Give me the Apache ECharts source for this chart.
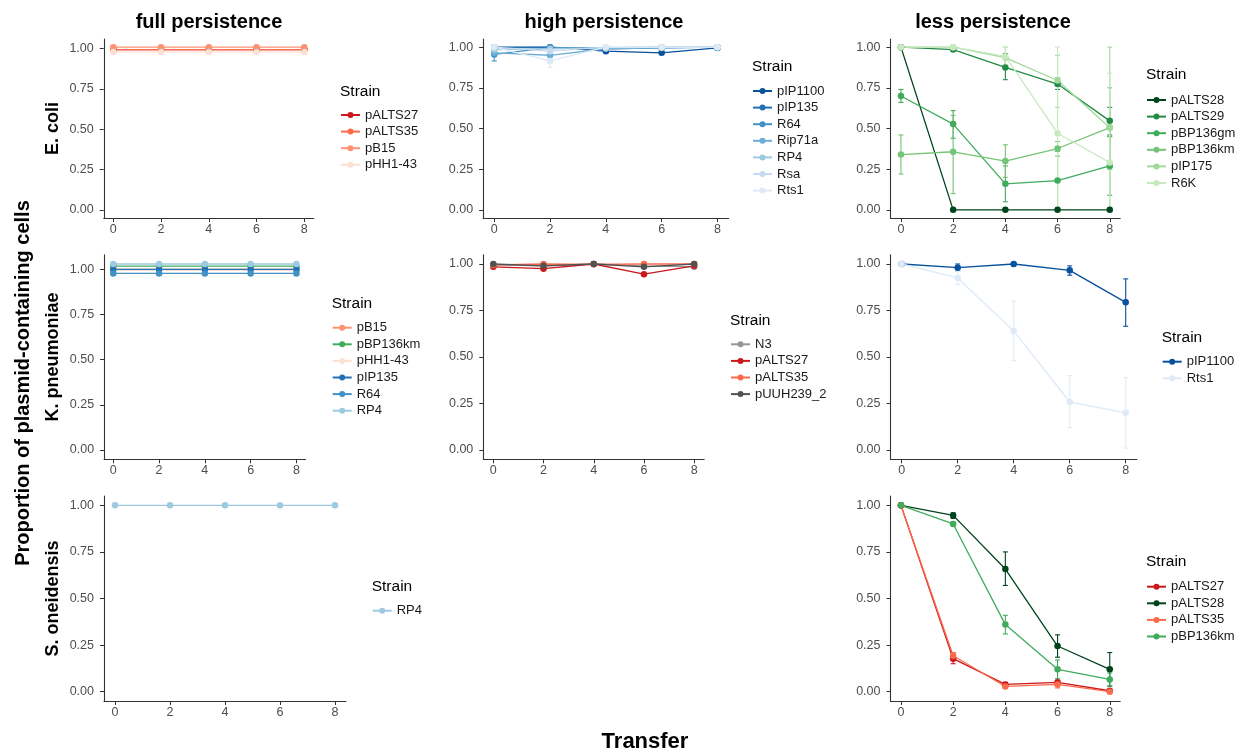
<!DOCTYPE html>
<html><head><meta charset="utf-8">
<script src="https://cdn.jsdelivr.net/npm/echarts@6/dist/echarts.min.js"></script>
<style>html,body{margin:0;padding:0;background:#fff}#c{width:1245px;height:753px}</style>
</head><body><div id="c"></div>
<script>
// ---------- DATA ----------
const transfer = [0, 2, 4, 6, 8];
const xTickValues = [0, 2, 4, 6, 8];
const yTickValues = [0, 0.25, 0.5, 0.75, 1];
const columnTitles = ['full persistence', 'high persistence', 'less persistence'];
const rowTitles = ['E. coli', 'K. pneumoniae', 'S. oneidensis'];
const yAxisTitle = 'Proportion of plasmid-containing cells';
const xAxisTitle = 'Transfer';
const legendTitle = 'Strain';

// E. coli - full persistence
const ecoliFullStrains = ['pALTS27', 'pALTS35', 'pB15', 'pHH1-43'];
const ecoliFullValues = [
  [0.995, 0.995, 0.995, 0.995, 0.995],
  [0.995, 0.995, 0.995, 0.995, 0.995],
  [1.01, 1.01, 1.01, 1.01, 1.01],
  [0.98, 0.98, 0.98, 0.98, 0.98]
];
const ecoliFullLow = [null, null, null, null];
const ecoliFullHigh = [null, null, null, null];

// E. coli - high persistence
const ecoliHighStrains = ['pIP1100', 'pIP135', 'R64', 'Rip71a', 'RP4', 'Rsa', 'Rts1'];
const ecoliHighValues = [
  [1.0, 1.0, 0.975, 0.965, 0.995],
  [0.995, 0.998, 0.99, 0.995, 1.0],
  [0.955, 0.997, 0.995, 1.0, 1.0],
  [0.965, 0.95, 0.99, 0.995, 1.0],
  [0.985, 0.99, 0.995, 1.0, 1.0],
  [1.0, 0.975, 1.0, 1.0, 1.0],
  [1.0, 0.915, 1.0, 1.0, 1.0]
];
const ecoliHighLow = [
  [null, null, 0.965, 0.955, null],
  null,
  [0.915, null, null, null, null],
  [null, 0.925, null, null, null],
  null, null,
  [null, 0.875, null, null, null]
];
const ecoliHighHigh = [
  [null, null, 0.985, 0.975, null],
  null,
  [0.995, null, null, null, null],
  [null, 0.975, null, null, null],
  null, null,
  [null, 0.955, null, null, null]
];

// E. coli - less persistence
const ecoliLessStrains = ['pALTS28', 'pALTS29', 'pBP136gm', 'pBP136km', 'pIP175', 'R6K'];
const ecoliLessValues = [
  [1.0, 0.0, 0.0, 0.0, 0.0],
  [1.0, 0.985, 0.875, 0.773, 0.547],
  [0.70, 0.527, 0.16, 0.18, 0.27],
  [0.34, 0.357, 0.30, 0.377, 0.506],
  [1.0, 1.0, 0.936, 0.795, 0.505],
  [1.0, 1.0, 0.943, 0.471, 0.291]
];
const ecoliLessLow = [
  null,
  [null, 0.975, 0.80, 0.74, 0.46],
  [0.66, 0.44, 0.05, 0.0, 0.09],
  [0.22, 0.10, 0.20, 0.33, 0.25],
  [null, null, 0.88, 0.63, 0.0],
  [null, null, 0.89, 0.0, 0.0]
];
const ecoliLessHigh = [
  null,
  [null, 0.995, 0.96, 0.81, 0.63],
  [0.74, 0.61, 0.27, 0.36, 0.45],
  [0.46, 0.58, 0.40, 0.42, 0.75],
  [null, null, 1.0, 0.95, 1.0],
  [null, null, 1.0, 1.0, 0.84]
];

// K. pneumoniae - full persistence
const kpFullStrains = ['pB15', 'pBP136km', 'pHH1-43', 'pIP135', 'R64', 'RP4'];
const kpFullValues = [
  [1.0, 1.0, 1.0, 1.0, 1.0],
  [1.018, 1.018, 1.018, 1.018, 1.018],
  [0.995, 0.995, 0.995, 0.995, 0.995],
  [1.0, 1.0, 1.0, 1.0, 1.0],
  [0.978, 0.978, 0.978, 0.978, 0.978],
  [1.03, 1.03, 1.03, 1.03, 1.03]
];
const kpFullLow = [null, null, null, null, null, null];
const kpFullHigh = [null, null, null, null, null, null];

// K. pneumoniae - high persistence
const kpHighStrains = ['N3', 'pALTS27', 'pALTS35', 'pUUH239_2'];
const kpHighValues = [
  [0.995, 0.99, 1.0, 0.99, 0.985],
  [0.985, 0.975, 1.0, 0.945, 0.99],
  [0.995, 1.0, 0.998, 1.0, 1.0],
  [1.0, 0.99, 1.0, 0.985, 1.0]
];
const kpHighLow = [null, null, null, null];
const kpHighHigh = [null, null, null, null];

// K. pneumoniae - less persistence
const kpLessStrains = ['pIP1100', 'Rts1'];
const kpLessValues = [
  [1.0, 0.98, 1.0, 0.966, 0.794],
  [1.0, 0.925, 0.64, 0.258, 0.20]
];
const kpLessLow = [
  [null, 0.96, 0.99, 0.94, 0.665],
  [null, 0.89, 0.48, 0.12, 0.01]
];
const kpLessHigh = [
  [null, 1.0, 1.0, 0.99, 0.92],
  [null, 0.96, 0.80, 0.40, 0.39]
];

// S. oneidensis - full persistence
const soFullStrains = ['RP4'];
const soFullValues = [[1.0, 1.0, 1.0, 1.0, 1.0]];
const soFullLow = [null];
const soFullHigh = [null];

// S. oneidensis - less persistence
const soLessStrains = ['pALTS27', 'pALTS28', 'pALTS35', 'pBP136km'];
const soLessValues = [
  [1.0, 0.177, 0.039, 0.05, 0.005],
  [1.0, 0.946, 0.658, 0.245, 0.12],
  [1.0, 0.193, 0.028, 0.039, 0.0],
  [1.0, 0.90, 0.36, 0.12, 0.066]
];
const soLessLow = [
  [null, 0.15, 0.03, 0.04, 0.0],
  [null, 0.93, 0.57, 0.185, 0.03],
  [null, 0.18, 0.02, 0.02, 0.0],
  [null, 0.89, 0.31, 0.07, 0.03]
];
const soLessHigh = [
  [null, 0.21, 0.05, 0.06, 0.01],
  [null, 0.96, 0.75, 0.305, 0.21],
  [null, 0.21, 0.035, 0.06, 0.01],
  [null, 0.91, 0.41, 0.17, 0.10]
];

// ---------- STYLE / LAYOUT ----------
const FONT = '"Liberation Sans", Arial, Helvetica, sans-serif';
const panels = [
  { strains: ecoliFullStrains, values: ecoliFullValues, low: ecoliFullLow, high: ecoliFullHigh,
    colors: ['#cb181d', '#fb6a4a', '#fc9272', '#fee0d2'],
    left: 103.75, width: 210.1, top: 39, height: 179, yMin: -0.0505, yMax: 1.0605,
    lg: { x: 340, titleY: 91.7, firstY: 115 } },
  { strains: ecoliHighStrains, values: ecoliHighValues, low: ecoliHighLow, high: ecoliHighHigh,
    colors: ['#08519c', '#2171b5', '#4292c6', '#6baed6', '#9ecae1', '#c6dbef', '#deebf7'],
    left: 483.1, width: 245.5, top: 39, height: 179, yMin: -0.05, yMax: 1.05,
    lg: { x: 752, titleY: 66.7, firstY: 91 } },
  { strains: ecoliLessStrains, values: ecoliLessValues, low: ecoliLessLow, high: ecoliLessHigh,
    colors: ['#00441b', '#238b45', '#41ab5d', '#74c476', '#a1d99b', '#c7e9c0'],
    left: 890.5, width: 229.7, top: 39, height: 179, yMin: -0.05, yMax: 1.05,
    lg: { x: 1146, titleY: 75, firstY: 100 } },
  { strains: kpFullStrains, values: kpFullValues, low: kpFullLow, high: kpFullHigh,
    colors: ['#fc9272', '#41ab5d', '#fee0d2', '#2171b5', '#4292c6', '#9ecae1'],
    left: 104.1, width: 201.5, top: 254.7, height: 204.6, yMin: -0.0515, yMax: 1.0815,
    lg: { x: 331.7, titleY: 303.3, firstY: 327.7 } },
  { strains: kpHighStrains, values: kpHighValues, low: kpHighLow, high: kpHighHigh,
    colors: ['#969696', '#cb181d', '#fb6a4a', '#525252'],
    left: 483.3, width: 220.9, top: 254.7, height: 204.6, yMin: -0.05, yMax: 1.05,
    lg: { x: 730, titleY: 320.7, firstY: 344.3 } },
  { strains: kpLessStrains, values: kpLessValues, low: kpLessLow, high: kpLessHigh,
    colors: ['#08519c', '#deebf7'],
    left: 890.5, width: 246.4, top: 254.7, height: 204.6, yMin: -0.05, yMax: 1.05,
    lg: { x: 1161.7, titleY: 337.7, firstY: 361.7 } },
  { strains: soFullStrains, values: soFullValues, low: soFullLow, high: soFullHigh,
    colors: ['#9ecae1'],
    left: 104, width: 242, top: 496, height: 205, yMin: -0.05, yMax: 1.05,
    lg: { x: 371.7, titleY: 586.7, firstY: 610.7 } },
  { strains: soLessStrains, values: soLessValues, low: soLessLow, high: soLessHigh,
    colors: ['#cb181d', '#00441b', '#fb6a4a', '#41ab5d'],
    left: 890.5, width: 229.7, top: 496, height: 205, yMin: -0.05, yMax: 1.05,
    lg: { x: 1146, titleY: 561.7, firstY: 586.7 } }
];

const AXIS_COLOR = '#333333';
const LABEL_COLOR = '#4d4d4d';
const ROW_STEP = 16.6;

const grid = [], xAxis = [], yAxis = [], series = [], legend = [], graphic = [];

panels.forEach((p, i) => {
  grid.push({ left: p.left, top: p.top, width: p.width, height: p.height, containLabel: false });
  xAxis.push({
    type: 'value', gridIndex: i, min: -0.4, max: 8.4,
    axisLine: { onZero: false, lineStyle: { color: AXIS_COLOR, width: 1.1 } },
    axisTick: { customValues: xTickValues, length: 4, lineStyle: { color: AXIS_COLOR } },
    axisLabel: { customValues: xTickValues, color: LABEL_COLOR, fontSize: 12.5, fontFamily: FONT, margin: 5 },
    splitLine: { show: false }
  });
  yAxis.push({
    type: 'value', gridIndex: i, min: p.yMin, max: p.yMax,
    axisLine: { show: true, onZero: false, lineStyle: { color: AXIS_COLOR, width: 1.1 } },
    axisTick: { show: true, customValues: yTickValues, length: 4, lineStyle: { color: AXIS_COLOR } },
    axisLabel: { customValues: yTickValues, color: LABEL_COLOR, fontSize: 12.5, fontFamily: FONT, margin: 10,
      formatter: v => Number(v).toFixed(2) },
    splitLine: { show: false }
  });
  const legendNames = [];
  p.strains.forEach((s, k) => {
    const name = 'p' + i + '|' + s;
    legendNames.push(name);
    const color = p.colors[k];
    // error bars
    if (p.low[k]) {
      const ed = [];
      transfer.forEach((t, j) => {
        if (p.low[k][j] != null) ed.push([t, p.low[k][j], p.high[k][j]]);
      });
      series.push({
        type: 'custom', name: name + '|err', xAxisIndex: i, yAxisIndex: i, silent: true, z: 1,
        data: ed, encode: { x: 0, y: [1, 2] },
        renderItem: (params, api) => {
          const x = api.value(0), lo = api.value(1), hi = api.value(2);
          const a = api.coord([x, lo]), b = api.coord([x, hi]);
          const w = 2.5;
          const st = { stroke: color, lineWidth: 1.1, fill: null };
          return { type: 'group', children: [
            { type: 'line', shape: { x1: a[0], y1: a[1], x2: b[0], y2: b[1] }, style: st },
            { type: 'line', shape: { x1: a[0] - w, y1: a[1], x2: a[0] + w, y2: a[1] }, style: st },
            { type: 'line', shape: { x1: b[0] - w, y1: b[1], x2: b[0] + w, y2: b[1] }, style: st }
          ] };
        }
      });
    }
    series.push({
      type: 'line', name: name, xAxisIndex: i, yAxisIndex: i, z: 2,
      data: transfer.map((t, j) => [t, p.values[k][j]]),
      symbol: 'circle', symbolSize: 6.5, showSymbol: true,
      lineStyle: { color: color, width: 1.3 },
      itemStyle: { color: color, borderWidth: 0 },
      emphasis: { disabled: true }
    });
  });
  legend.push({
    data: legendNames, orient: 'vertical', left: p.lg.x, top: p.lg.firstY - ROW_STEP / 2,
    padding: 0, itemGap: 0, itemWidth: 19, itemHeight: 7.5, selectedMode: false,
    formatter: n => n.split('|')[1],
    textStyle: { fontSize: 13, fontFamily: FONT, color: '#1a1a1a', lineHeight: ROW_STEP, height: ROW_STEP }
  });
  graphic.push({ type: 'text', x: p.lg.x, y: p.lg.titleY,
    style: { text: legendTitle, font: '15.5px ' + FONT, fill: '#000',
      align: 'left', verticalAlign: 'middle', textAlign: 'left', textVerticalAlign: 'middle' } });
});

const colCenters = [209, 604, 993];
columnTitles.forEach((t, c) => graphic.push({ type: 'text', x: colCenters[c], y: 22,
  style: { text: t, font: 'bold 20px ' + FONT, fill: '#000', align: 'center', verticalAlign: 'middle',
    textAlign: 'center', textVerticalAlign: 'middle' } }));
const rowCenters = [128.5, 357, 598.5];
rowTitles.forEach((t, r) => graphic.push({ type: 'text', x: 53, y: rowCenters[r], rotation: Math.PI / 2,
  style: { text: t, font: 'bold 18px ' + FONT, fill: '#000', align: 'center', verticalAlign: 'middle',
    textAlign: 'center', textVerticalAlign: 'middle' } }));
graphic.push({ type: 'text', x: 23, y: 383, rotation: Math.PI / 2,
  style: { text: yAxisTitle, font: 'bold 20px ' + FONT, fill: '#000', align: 'center', verticalAlign: 'middle',
    textAlign: 'center', textVerticalAlign: 'middle' } });
graphic.push({ type: 'text', x: 645, y: 742,
  style: { text: xAxisTitle, font: 'bold 22px ' + FONT, fill: '#000', align: 'center', verticalAlign: 'middle',
    textAlign: 'center', textVerticalAlign: 'middle' } });

const chart = echarts.init(document.getElementById('c'), null, { renderer: 'canvas' });
chart.setOption({
  backgroundColor: '#ffffff', animation: false,
  grid, xAxis, yAxis, series, legend, graphic
});
</script></body></html>
